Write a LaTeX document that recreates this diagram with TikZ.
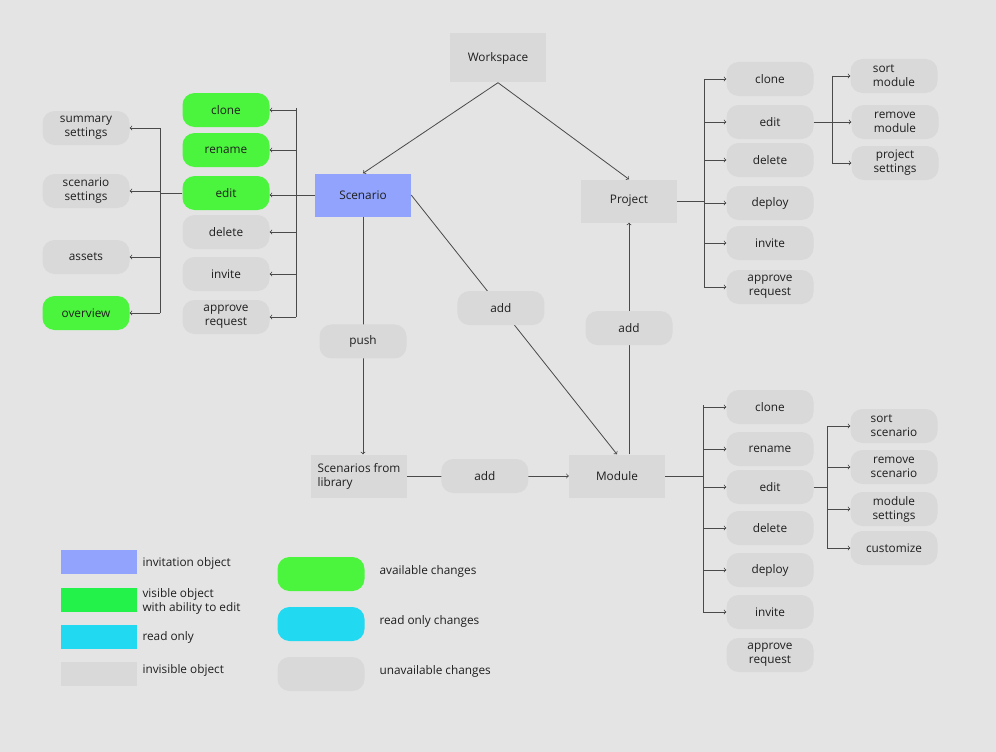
\documentclass[tikz,border=0pt]{standalone}
\usepackage{fontspec}
\setmainfont{Open Sans}
\usetikzlibrary{arrows}

\definecolor{bg}{HTML}{E4E4E4}
\definecolor{boxgray}{HTML}{D9D9D9}
\definecolor{invblue}{HTML}{91A3FC}
\definecolor{okgreen}{HTML}{4CF53D}
\definecolor{visgreen}{HTML}{22F24A}
\definecolor{rocyan}{HTML}{22D9F2}
\definecolor{linegray}{HTML}{4A4A4A}
\definecolor{txt}{HTML}{1E1E1E}

\begin{document}
\begin{tikzpicture}[x=1pt,y=-1pt,>=to,
	obj/.style={rectangle,fill=boxgray,minimum width=96pt,minimum height=43pt,inner sep=2pt,
		text=txt,font=\fontsize{11.8}{14}\selectfont},
	act/.style={rectangle,rounded corners=12pt,fill=boxgray,minimum width=87pt,minimum height=34pt,
		inner sep=1pt,align=center,text=txt,font=\fontsize{11.8}{14}\selectfont},
	okact/.style={act,fill=okgreen},
	link/.style={draw=linegray,line width=0.8pt},
	legbox/.style={rectangle,minimum width=76pt,minimum height=24pt,inner sep=0pt},
	legtext/.style={anchor=west,align=left,text=txt,font=\fontsize{11.8}{14}\selectfont}]
	
	\fill[bg] (0,0) rectangle (996,752);
	\useasboundingbox (0,0) rectangle (996,752);
	
	% main objects
	\node[obj,minimum height=49pt] (ws) at (498,58) {Workspace};
	\node[obj,fill=invblue] (sc) at (363,195) {Scenario};
	\node[obj] (pr) at (629,201) {Project};
	\node[obj,align=left] (lib) at (359,476) {Scenarios from\\library};
	\node[obj] (mod) at (617,476) {Module};
	
	\draw[link,->] (ws.south) -- (sc.north);
	\draw[link,->] (ws.south) -- (pr.north);
	\draw[link,->] (sc.east) -- node[act,pos=.436] (addsm) {add} (mod.north);
	\draw[link,->] (sc.south) -- node[act,pos=.525] (push) {push} (sc.south |- lib.north);
	\draw[link,->] (lib.east) -- node[act,pos=.48] (addlm) {add} (mod.west);
	\draw[link,->] (pr.south |- mod.north) -- node[act,pos=.545] (addmp) {add} (pr.south);
	
	% scenario actions
	\node[okact] (sclone) at (226,110) {clone};
	\node[okact] (sren) at (226,150) {rename};
	\node[okact] (sedit) at (226,193) {edit};
	\node[act] (sdel) at (226,232) {delete};
	\node[act] (sinv) at (226,274) {invite};
	\node[act] (sappr) at (226,317) {approve\\request};
	\coordinate (sctop) at (296,108);
	\draw[link] (sctop) -- (sctop |- sappr.east);
	\draw[link,->] (sc.west) -- (sedit.east |- sc.west);
	\foreach \n in {sclone,sren,sdel,sinv,sappr}
		\draw[link,->] (sctop |- \n.east) -- (\n.east);
	
	\node[act] (ssum) at (86,128) {summary\\settings};
	\node[act] (sset) at (86,191) {scenario\\settings};
	\node[act] (sass) at (86,257) {assets};
	\node[okact] (sover) at (86,313) {overview};
	\coordinate (setop) at (160,128);
	\draw[link] (sedit.west) -- (setop |- sedit.west);
	\draw[link] (setop) -- (setop |- sover.east);
	\foreach \n in {ssum,sset,sass,sover}
		\draw[link,->] (setop |- \n.east) -- (\n.east);
	
	% project actions
	\node[act] (pclone) at (770,79) {clone};
	\node[act] (pedit) at (770,122) {edit};
	\node[act] (pdel) at (770,160) {delete};
	\node[act] (pdep) at (770,203) {deploy};
	\node[act] (pinv) at (770,243) {invite};
	\node[act] (pappr) at (770,287) {approve\\request};
	\coordinate (ptop) at (704,79);
	\draw[link] (pr.east) -- (ptop |- pr.east);
	\draw[link] (ptop) -- (ptop |- pappr.west);
	\foreach \n in {pclone,pedit,pdel,pdep,pinv,pappr}
		\draw[link,->] (ptop |- \n.west) -- (\n.west);
	
	\node[act,align=left] (psort) at (894,76) {sort\\module};
	\node[act] (prem) at (895,122) {remove\\module};
	\node[act] (pset) at (895,163) {project\\settings};
	\coordinate (petop) at (832,76);
	\draw[link] (pedit.east) -- (petop |- pedit.east);
	\draw[link] (petop) -- (petop |- pset.west);
	\foreach \n in {psort,prem,pset}
		\draw[link,->] (petop |- \n.west) -- (\n.west);
	
	% module actions
	\node[act] (mclone) at (770,407) {clone};
	\node[act] (mren) at (770,449) {rename};
	\node[act] (medit) at (770,487) {edit};
	\node[act] (mdel) at (770,528) {delete};
	\node[act] (mdep) at (770,570) {deploy};
	\node[act] (minv) at (770,612) {invite};
	\node[act] (mappr) at (770,655) {approve\\request};
	\coordinate (mtop) at (703,405);
	\draw[link] (mod.east) -- (mtop |- mod.east);
	\draw[link] (mtop) -- (mtop |- minv.west);
	\foreach \n in {mclone,mren,medit,mdel,mdep,minv}
		\draw[link,->] (mtop |- \n.west) -- (\n.west);
	
	\node[act,align=left] (msort) at (894,426) {sort\\scenario};
	\node[act] (mrem) at (894,467) {remove\\scenario};
	\node[act] (mset) at (894,509) {module\\settings};
	\node[act] (mcust) at (894,548) {customize};
	\coordinate (metop) at (827,426);
	\draw[link] (medit.east) -- (metop |- medit.east);
	\draw[link] (metop) -- (metop |- mcust.west);
	\foreach \n in {msort,mrem,mset,mcust}
		\draw[link,->] (metop |- \n.west) -- (\n.west);
	
	% legend
	\node[legbox,fill=invblue] (linv) at (99,562) {};
	\node[legbox,fill=visgreen] (lvis) at (99,600) {};
	\node[legbox,fill=rocyan] (lro) at (99,637) {};
	\node[legbox,fill=boxgray] (linvis) at (99,674) {};
	\node[legtext] (tinv) at (139,563) {invitation object};
	\node[legtext] (tvis) at (139,601) {visible object\\with ability to edit};
	\node[legtext] (tro) at (139,637) {read only};
	\node[legtext] (tinvis) at (139,670) {invisible object};
	
	\node[act,fill=okgreen] (lok) at (321,574) {};
	\node[act,fill=rocyan] (lrod) at (321,624) {};
	\node[act] (lun) at (321,674) {};
	\node[legtext] (tok) at (376,571) {available changes};
	\node[legtext] (trod) at (376,621) {read only changes};
	\node[legtext] (tun) at (376,671) {unavailable changes};
\end{tikzpicture}
\end{document}
